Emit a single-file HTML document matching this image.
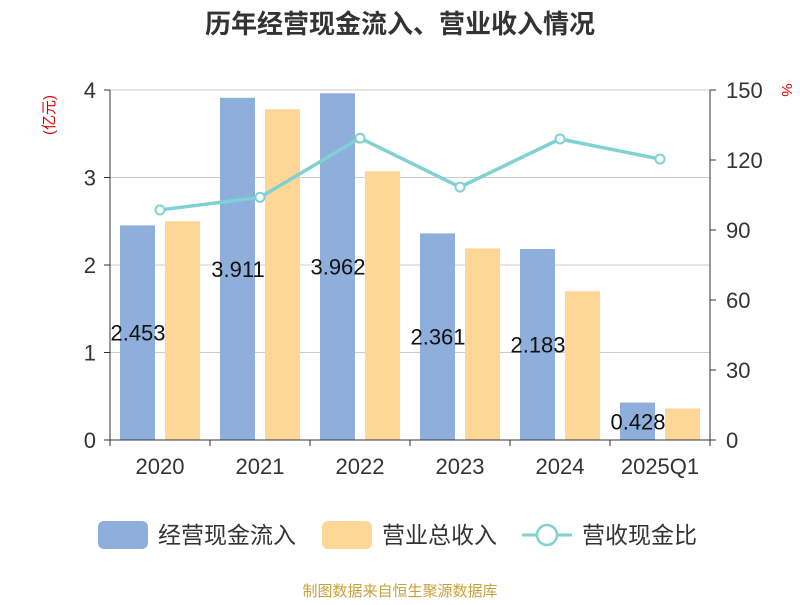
<!DOCTYPE html>
<html><head><meta charset="utf-8"><style>
body{margin:0;background:#fff;}
svg text{font-family:"Liberation Sans","Noto Sans CJK SC",sans-serif;}
</style></head><body>
<svg id="chart" width="800" height="600" xmlns="http://www.w3.org/2000/svg">
<text x="400" y="33" text-anchor="middle" font-size="26" font-weight="bold" fill="#333">历年经营现金流入、营业收入情况</text>
<text x="0" y="0" transform="translate(54,115) rotate(-90)" text-anchor="middle" font-size="15" fill="#e00000">(亿元)</text>
<text x="0" y="0" transform="translate(782,90) rotate(90)" text-anchor="middle" font-size="15" fill="#e00000">%</text>
<g id="grid"></g><g id="bars"></g><g id="axes"></g><g id="line"></g><g id="labels"></g>
<g>
<g><rect x="98" y="521" width="50" height="28" rx="6" fill="#8eaedb"/><text x="158" y="543" font-size="23" fill="#333">经营现金流入</text></g>
<g><rect x="322" y="521" width="50" height="28" rx="6" fill="#fed797"/><text x="382" y="543" font-size="23" fill="#333">营业总收入</text></g>
<g><line x1="522" y1="535" x2="572" y2="535" stroke="#7fd1d4" stroke-width="3"/><circle cx="547" cy="535" r="10" fill="#fff" stroke="#7fd1d4" stroke-width="2.5"/><text x="582" y="543" font-size="23" fill="#333">营收现金比</text></g>
</g>
<text x="400" y="596" text-anchor="middle" font-size="15" fill="#c9a13a">制图数据来自恒生聚源数据库</text>
</svg>
<script>
const categories=["2020","2021","2022","2023","2024","2025Q1"];
const cashInflow=[2.453,3.911,3.962,2.361,2.183,0.428];
const revenue=[2.50,3.78,3.07,2.19,1.70,0.36];
const ratio=[98.6,104,129.4,108.4,129,120.4];
const leftTicks=[0,1,2,3,4];
const rightTicks=[0,30,60,90,120,150];
const NS="http://www.w3.org/2000/svg";
const X0=110,X1=710,Y0=440,Y1=90;
const bw=(X1-X0)/categories.length;
const yL=v=>Y0-(v/4)*(Y0-Y1);
const yR=v=>Y0-(v/150)*(Y0-Y1);
const xC=i=>X0+bw*(i+0.5);
function mk(tag,attrs,parent,txt){const e=document.createElementNS(NS,tag);for(const k in attrs)e.setAttribute(k,attrs[k]);if(txt!==undefined)e.textContent=txt;document.getElementById(parent).appendChild(e);return e;}
leftTicks.forEach(t=>{
 if(t>0){const g=mk('line',{x1:X0,x2:X1,y1:yL(t),y2:yL(t),stroke:'#ccc','stroke-width':1},'grid');
 
 }
 const l=mk('text',{x:X0-14,y:yL(t)+8,'text-anchor':'end','font-size':22,fill:'#333'},'axes',String(t));
 
 
 mk('line',{x1:X0-6,x2:X0,y1:yL(t),y2:yL(t),stroke:'#333'},'axes');
});
rightTicks.forEach(t=>{
 const l=mk('text',{x:X1+16,y:yR(t)+8,'font-size':22,fill:'#333'},'axes',String(t));
 
 
 mk('line',{x1:X1,x2:X1+6,y1:yR(t),y2:yR(t),stroke:'#333'},'axes');
});
mk('line',{x1:X0,x2:X0,y1:Y1,y2:Y0,stroke:'#333'},'axes');
mk('line',{x1:X1,x2:X1,y1:Y1,y2:Y0,stroke:'#333'},'axes');
mk('line',{x1:X0,x2:X1,y1:Y0,y2:Y0,stroke:'#333'},'axes');
categories.forEach((c,i)=>{
 mk('line',{x1:X0+bw*i,x2:X0+bw*i,y1:Y0,y2:Y0+6,stroke:'#333'},'axes');
 const l=mk('text',{x:xC(i),y:Y0+34,'text-anchor':'middle','font-size':22,fill:'#333'},'axes',c);
 
 
 const b1=mk('rect',{x:xC(i)-40,y:yL(cashInflow[i]),width:35,height:Y0-yL(cashInflow[i]),fill:'#8eaedb'},'bars');
 
 
 const b2=mk('rect',{x:xC(i)+5,y:yL(revenue[i]),width:35,height:Y0-yL(revenue[i]),fill:'#fed797'},'bars');
 
 
 const vl=mk('text',{x:xC(i)-22,y:(yL(cashInflow[i])+Y0)/2+8,'text-anchor':'middle','font-size':22,fill:'#111'},'labels',cashInflow[i].toFixed(3));
 
 
});
mk('line',{x1:X0+bw*6,x2:X0+bw*6,y1:Y0,y2:Y0+6,stroke:'#333'},'axes');
const pts=ratio.map((v,i)=>xC(i)+','+yR(v)).join(' ');
const pl=mk('polyline',{points:pts,fill:'none',stroke:'#7fd1d4','stroke-width':3.5},'line');


ratio.forEach((v,i)=>{
 const p=mk('circle',{cx:xC(i),cy:yR(v),r:4.5,fill:'#fff',stroke:'#7fd1d4','stroke-width':2},'line');
 
 
});
</script>
</body></html>
